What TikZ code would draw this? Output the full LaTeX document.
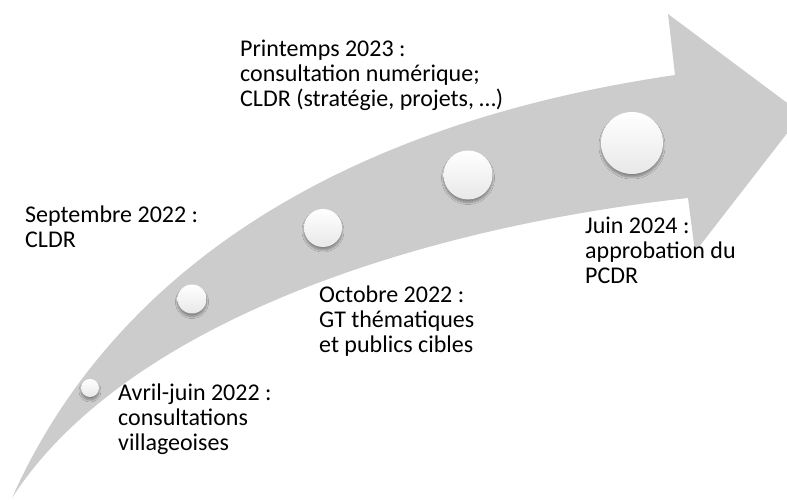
\documentclass[tikz,border=0pt]{standalone}
\usepackage{fontspec}
\setmainfont{Carlito}
\usetikzlibrary{shadows.blur}
\definecolor{arrowgray}{RGB}{204,204,204}
\tikzset{
  bead/.style={circle, inner sep=0pt, top color=white, middle color=white, bottom color=black!9,
    blur shadow={shadow xshift=0pt, shadow yshift=-3pt, shadow blur radius=2pt, shadow blur steps=8, shadow opacity=35}},
  lbl/.style={anchor=base west, inner sep=0pt, font=\fontsize{24}{25}\selectfont, text=black}
}
\begin{document}
\begin{tikzpicture}[x=1pt,y=-1pt]
\useasboundingbox (0,0) rectangle (787,500);
\clip (0,0) rectangle (787,500);
% curved arrow
\fill[arrowgray] (12,498) .. controls (100,300) and (300,130) .. (675,75)
  -- (668,14) -- (802,114) -- (695,252) -- (688,198)
  .. controls (400,230) and (120,330) .. (12,498) -- cycle;
% beads
\node[bead, minimum size=18pt] (c1) at (90,388) {};
\node[bead, minimum size=29pt] (c2) at (192,299) {};
\node[bead, minimum size=38pt] (c3) at (323,228) {};
\node[bead, minimum size=49pt] (c4) at (468,175) {};
\node[bead, minimum size=62pt] (c5) at (632,143) {};
% labels
\node[lbl] (p1) at (240,57) {Printemps 2023 :};
\node[lbl] (p2) at (240,82) {consultation numérique;};
\node[lbl] (p3) at (240,107) {CLDR (stratégie, projets, …)};
\node[lbl] (s1) at (25,222) {Septembre 2022 :};
\node[lbl] (s2) at (25,247) {CLDR};
\node[lbl] (o1) at (319,302) {Octobre 2022 :};
\node[lbl] (o2) at (319,327) {GT thématiques};
\node[lbl] (o3) at (319,352) {et publics cibles};
\node[lbl] (a1) at (118,400) {Avril-juin 2022 :};
\node[lbl] (a2) at (118,425) {consultations};
\node[lbl] (a3) at (118,450) {villageoises};
\node[lbl] (j1) at (585,233) {Juin 2024 :};
\node[lbl] (j2) at (585,258) {approbation du};
\node[lbl] (j3) at (585,283) {PCDR};
\end{tikzpicture}
\end{document}
